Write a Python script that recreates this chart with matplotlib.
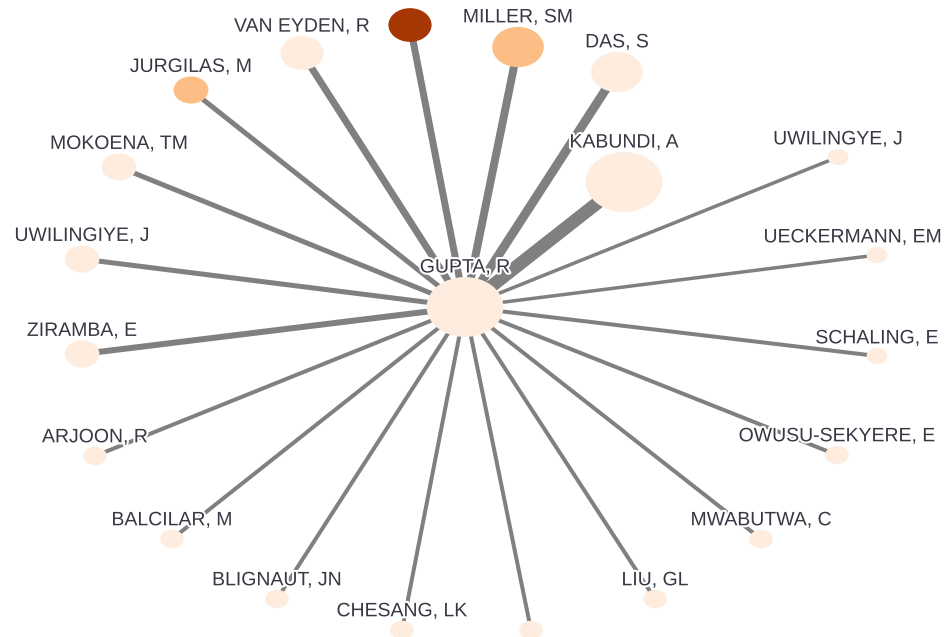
import numpy as np
import matplotlib
matplotlib.use("Agg")
import matplotlib.pyplot as plt
import matplotlib.patheffects as pe
from matplotlib.patches import Ellipse

# ----------------------------
# Co-authorship network around GUPTA, R
# ----------------------------
center_name = "GUPTA, R"
center_xy = (465, 307)
center_docs = 21

names = [
    "", "VAN EYDEN, R", "MILLER, SM", "DAS, S", "JURGILAS, M", "KABUNDI, A",
    "MOKOENA, TM", "UWILINGIYE, J", "UWILINGYE, J", "UECKERMANN, EM",
    "ZIRAMBA, E", "SCHALING, E", "ARJOON, R", "OWUSU-SEKYERE, E",
    "BALCILAR, M", "MWABUTWA, C", "BLIGNAUT, JN", "LIU, GL", "CHESANG, LK", "",
]
# layout positions (network layout, pixel space)
node_x = [410, 302, 518, 617, 191, 624, 119, 82, 838, 877,
          82, 877, 95, 837, 172, 761, 277, 655, 402, 531]
node_y = [25, 53, 47, 72, 90, 182, 167, 259, 157, 255,
          354, 356, 456, 455, 539, 539, 599, 599, 630, 630]
# documents per author (node size)
docs = [9, 9, 12, 12, 6, 21, 6, 6, 1, 1,
        6, 1, 2, 2, 2, 2, 2, 2, 2, 2]
# joint papers with GUPTA, R (edge width)
links = [4, 4, 5, 6, 2, 10, 2, 2, 0.5, 0.5,
         3, 1, 1, 1, 1, 1, 1, 1, 1, 1]
# colour class (cluster)
group = [2, 0, 1, 0, 1, 0, 0, 0, 0, 0,
         0, 0, 0, 0, 0, 0, 0, 0, 0, 0]

palette = ["#feedde", "#fdbe85", "#a63603"]
W, H = 946, 637
PX = 72 / 100  # points per pixel


def node_w(v):
    return 18 + 2.8 * v


fig = plt.figure(figsize=(W / 100, H / 100), dpi=100)
ax = fig.add_axes([0, 0, 1, 1])
ax.set_xlim(0, W)
ax.set_ylim(H, 0)
ax.axis("off")

# ----------------------------
# Edges
# ----------------------------
cx, cy = center_xy
for x, y, lw in zip(node_x, node_y, links):
    ax.plot([cx, x], [cy, y], color="#808080",
            lw=(3 + lw) * PX, solid_capstyle="butt", zorder=1)

# ----------------------------
# Nodes
# ----------------------------
all_x = node_x + [cx]
all_y = node_y + [cy]
all_docs = docs + [center_docs]
all_grp = group + [0]
all_names = names + [center_name]

for x, y, d, g in zip(all_x, all_y, all_docs, all_grp):
    w = node_w(d)
    ax.add_patch(Ellipse((x, y), w, w * 0.78, facecolor=palette[g],
                         edgecolor="none", zorder=2))

# ----------------------------
# Labels
# ----------------------------
fig.canvas.draw()
renderer = fig.canvas.get_renderer()
for x, y, d, name in zip(all_x, all_y, all_docs, all_names):
    if not name:
        continue
    h = node_w(d) * 0.78
    t = ax.text(x, y - h / 2 - 9, name, ha="center", va="center",
                fontsize=14, family="Liberation Sans", color="#383844",
                zorder=3,
                path_effects=[pe.withStroke(linewidth=3, foreground="white")])
    bb = t.get_window_extent(renderer)
    if bb.x1 > W - 4:
        t.set_x(x - (bb.x1 - (W - 4)))
    if bb.x0 < 4:
        t.set_x(x + (4 - bb.x0))

fig.savefig("out.png", dpi=100)
